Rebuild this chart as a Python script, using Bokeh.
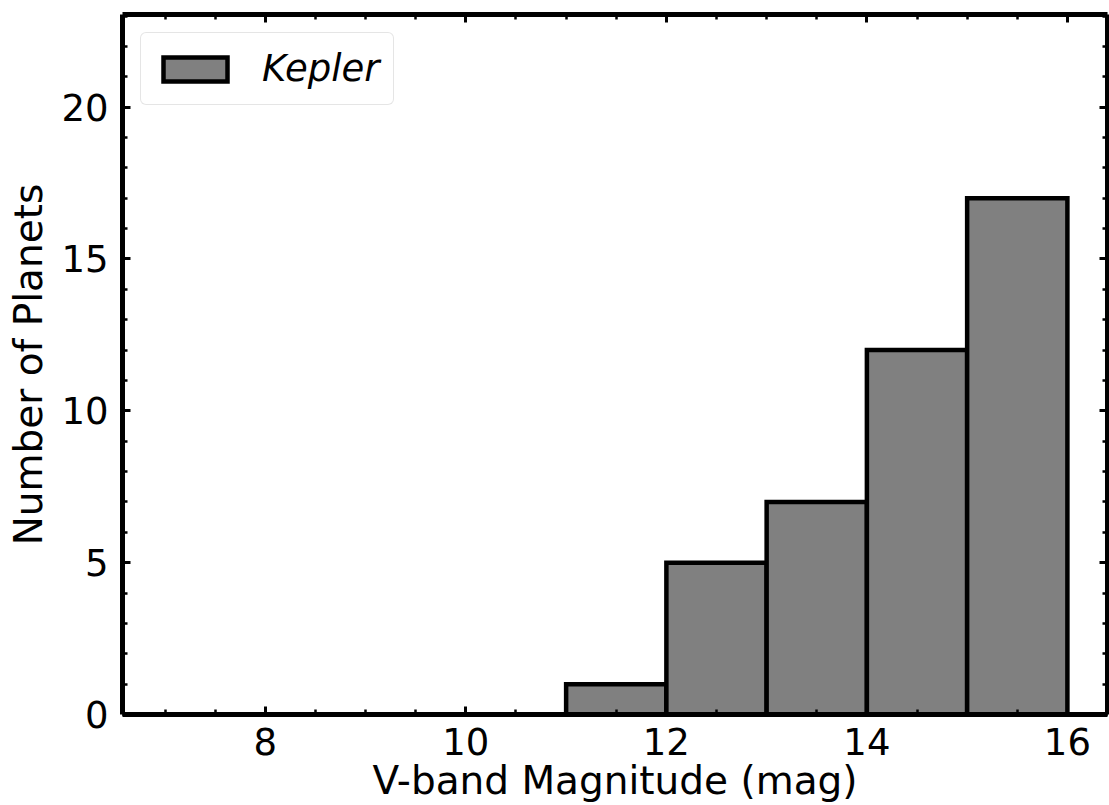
from bokeh.plotting import figure
from bokeh.models import (Range1d, LinearAxis, SingleIntervalTicker, Legend, LegendItem,
                          ColumnDataSource, CustomJSTickFormatter)
from bokeh.embed import file_html
from bokeh.resources import INLINE

# ---- data ----
bin_left = [7, 8, 9, 10, 11, 12, 13, 14, 15]
bin_right = [8, 9, 10, 11, 12, 13, 14, 15, 16]
counts = [0, 0, 0, 0, 1, 5, 7, 12, 17]
series_name = "Kepler"
x_label = "V-band Magnitude (mag)"
y_label = "Number of Planets"

FONT = "DejaVu Sans"
TICK_FS = "37px"
LABEL_FS = "39px"
LEGEND_FS = "37px"

p = figure(width=1109, height=805, output_backend="svg", toolbar_location=None,
           x_range=Range1d(6.575, 16.4), y_range=Range1d(0, 23.05),
           min_border_left=122, min_border_right=2, min_border_top=14, min_border_bottom=90,
           x_axis_location=None, y_axis_location=None)
p.grid.visible = False
p.outline_line_color = None
p.background_fill_color = "white"
p.border_fill_color = "white"

src = ColumnDataSource(dict(left=bin_left, right=bin_right, top=counts, bottom=[0] * len(counts)))
r = p.quad(left="left", right="right", top="top", bottom="bottom", source=src,
           fill_color="#808080", line_color="black", line_width=4.5, line_join="miter")

xt = SingleIntervalTicker(interval=2, num_minor_ticks=4)
yt = SingleIntervalTicker(interval=5, num_minor_ticks=5)


def style(ax, labels=True):
    ax.axis_line_width = 5
    ax.axis_line_color = "black"
    ax.major_tick_in = 8
    ax.major_tick_out = 0
    ax.minor_tick_in = 5
    ax.minor_tick_out = 0
    ax.major_tick_line_width = 3
    ax.minor_tick_line_width = 2.5
    ax.major_tick_line_color = "black"
    ax.minor_tick_line_color = "black"
    if labels:
        ax.major_label_text_font = FONT
        ax.major_label_text_font_size = TICK_FS
        ax.major_label_text_color = "black"
        ax.axis_label_text_font = FONT
        ax.axis_label_text_font_size = LABEL_FS
        ax.axis_label_text_font_style = "normal"
        ax.axis_label_text_color = "black"
    else:
        ax.formatter = CustomJSTickFormatter(code="return ''")
        ax.major_label_text_font_size = "1px"
        ax.major_label_standoff = 0
        ax.axis_label = None


bottom = LinearAxis(ticker=xt, axis_label=x_label)
style(bottom)
bottom.major_label_standoff = 13
bottom.axis_label_standoff = 0
left = LinearAxis(ticker=yt, axis_label=y_label)
style(left)
left.major_label_standoff = 14
left.axis_label_standoff = 7
top = LinearAxis(ticker=xt)
style(top, labels=False)
right = LinearAxis(ticker=yt)
style(right, labels=False)

p.add_layout(bottom, "below")
p.add_layout(left, "left")
p.add_layout(top, "above")
p.add_layout(right, "right")

legend = Legend(items=[LegendItem(label=series_name, renderers=[r])],
                location="top_left", margin=18, padding=14,
                glyph_width=80, glyph_height=30, label_standoff=27,
                label_text_font=FONT, label_text_font_size=LEGEND_FS,
                label_text_font_style="italic", label_text_color="black",
                border_line_color="#cccccc", border_line_width=1.5,
                background_fill_color="white", background_fill_alpha=0.8)
if "border_radius" in Legend.properties():
    legend.border_radius = 6
p.add_layout(legend, "center")

open("out.html", "w").write(file_html(p, INLINE))
